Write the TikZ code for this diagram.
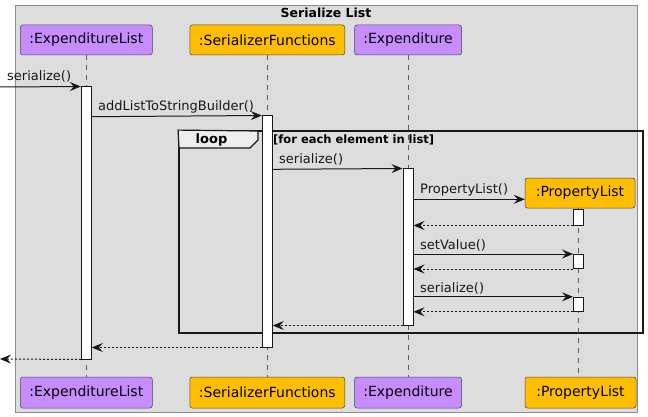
\documentclass[tikz,border=0pt]{standalone}
\usepackage{fontspec}
\setmainfont{DejaVu Sans}
\usetikzlibrary{arrows.meta}
\definecolor{purp}{HTML}{C78CFF}
\definecolor{amber}{HTML}{FFBF00}
\definecolor{bgc}{HTML}{DDDDDD}
\definecolor{ink}{HTML}{181818}
\definecolor{tabc}{HTML}{EEEEEE}
\begin{document}
\begin{tikzpicture}[x=1pt,y=-1pt,
  part/.style={draw=ink!80, line width=0.5pt, rounded corners=2.5pt, minimum height=30pt, inner sep=0pt, font=\fontsize{14}{16}\selectfont},
  ppurp/.style={part, fill=purp},
  pamb/.style={part, fill=amber},
  act/.style={draw=ink, fill=white, line width=1pt, minimum width=10pt, inner sep=0pt},
  life/.style={draw=ink!70, line width=0.5pt, dash pattern=on 5pt off 5pt},
  msg/.style={draw=ink, line width=1pt, -{Stealth[length=11pt,width=9pt,inset=4pt]}},
  ret/.style={msg, dash pattern=on 2pt off 2pt},
  lbl/.style={inner sep=0pt, anchor=base west, font=\fontsize{13}{15}\selectfont, text=ink},
]
\useasboundingbox (0,0) rectangle (648,417);
% outer frame
\node[draw=ink!50, fill=bgc, line width=1pt, minimum width=622pt, minimum height=406pt, inner sep=0pt] (frame) at (326,209) {};
\node[inner sep=0pt, anchor=base, font=\bfseries\fontsize{12.5}{14}\selectfont] (title) at (326,17.5) {Serialize List};

% loop frame
\node[draw=ink, line width=1.8pt, minimum width=464pt, minimum height=202pt, inner sep=0pt] (loopf) at (411,232) {};
\draw[draw=ink, fill=tabc, line width=1.2pt] (loopf.north west) -- (258,131) -- (258,140) -- (250,148) -- (179,148) -- cycle;
\node[inner sep=0pt, anchor=base, font=\bfseries\fontsize{13}{15}\selectfont] (looplbl) at (211.5,144) {loop};
\node[inner sep=0pt, anchor=base west, font=\bfseries\fontsize{11.5}{13}\selectfont] (cond) at (273,143.5) {[for each element in list]};

% participants
\node[ppurp, minimum width=132pt] (pELt) at (86.3,40) {:ExpenditureList};
\node[pamb, minimum width=155pt] (pSFt) at (267.3,40) {:SerializerFunctions};
\node[ppurp, minimum width=107pt] (pEXt) at (408,40) {:Expenditure};
\node[pamb, minimum width=110pt] (pPLt) at (580,193) {:PropertyList};
\node[ppurp, minimum width=132pt, minimum height=31pt] (pELb) at (86.3,392.5) {:ExpenditureList};
\node[pamb, minimum width=155pt, minimum height=31pt] (pSFb) at (267.3,392.5) {:SerializerFunctions};
\node[ppurp, minimum width=107pt, minimum height=31pt] (pEXb) at (408,392.5) {:Expenditure};
\node[pamb, minimum width=111pt, minimum height=31pt] (pPLb) at (580.5,392.5) {:PropertyList};

% lifelines
\draw[life] (pELt.south) -- (pELb.north);
\draw[life] (pSFt.south) -- (pSFb.north);
\draw[life] (pEXt.south) -- (pEXb.north);
\draw[life] (578.5,208) -- (578.5,377);

% activations
\node[act, minimum height=272pt] (aEL) at (86.3,223) {};
\node[act, minimum height=231pt] (aSF) at (267.3,231.5) {};
\node[act, minimum height=156pt] (aEX) at (408,247) {};
\node[act, minimum height=16pt] (aPL1) at (578.5,217) {};
\node[act, minimum height=14pt] (aPL2) at (578.5,261.5) {};
\node[act, minimum height=14pt] (aPL3) at (578.5,304.3) {};

% free ends
\coordinate (inL) at (0,87);
\coordinate (outL) at (0,359);

% messages
\draw[msg] (inL) -- (aEL.north west);
\node[lbl] (m1) at (7,81) {serialize()};
\draw[msg] (aEL.east |- 0,116.7) -- (aSF.north west);
\node[lbl] (m2) at (98,111) {addListToStringBuilder()};
\draw[msg] (aSF.east |- 0,169.3) -- (aEX.north west);
\node[lbl] (m3) at (279,164) {serialize()};
\draw[msg] (aEX.east |- 0,199.3) -- (pPLt.west |- 0,199.3);
\node[lbl] (m4) at (420,193.5) {PropertyList()};
\draw[ret] (aPL1.south west) -- (aEX.east |- aPL1.south);
\draw[msg] (aEX.east |- aPL2.north) -- (aPL2.north west);
\node[lbl] (m5) at (420,249) {setValue()};
\draw[ret] (aPL2.south west) -- (aEX.east |- aPL2.south);
\draw[msg] (aEX.east |- aPL3.north) -- (aPL3.north west);
\node[lbl] (m6) at (420,292) {serialize()};
\draw[ret] (aPL3.south west) -- (aEX.east |- aPL3.south);
\draw[ret] (aEX.south west) -- (aSF.east |- aEX.south);
\draw[ret] (aSF.south west) -- (aEL.east |- aSF.south);
\draw[ret] (aEL.south west) -- (outL);
\end{tikzpicture}
\end{document}
